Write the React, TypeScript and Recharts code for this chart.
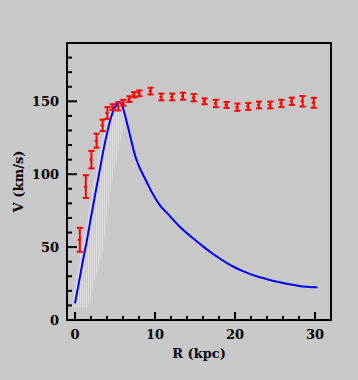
import {
  ComposedChart,
  Line,
  Area,
  Scatter,
  ErrorBar,
  XAxis,
  YAxis,
  Label,
  ReferenceArea,
} from 'recharts';

// observed rotation curve (red points with error bars)
const obsR = [0.6, 1.35, 2.05, 2.7, 3.45, 4.05, 4.7, 5.4, 6.05, 6.8, 7.4, 8.05, 9.45, 10.8, 12.15, 13.5, 14.85, 16.2, 17.6, 18.95, 20.3, 21.65, 23.0, 24.4, 25.8, 27.1, 28.45, 29.85];
const obsV = [55, 91.5, 110, 123, 133.5, 142, 146, 146.5, 149, 151.5, 154.5, 155.5, 157, 153, 153, 153.5, 152.5, 150, 148.5, 147.5, 146, 146.5, 147.5, 147.5, 148.5, 150, 150, 149];
const obsErr = [8.2, 7.8, 6, 4.8, 3.9, 4, 2, 2.8, 2, 2, 1.8, 2, 2.3, 2.3, 2.3, 2.4, 2.5, 2, 2.5, 2, 2.5, 2.4, 2.3, 2.3, 2.5, 2.5, 3.6, 3.4];

// model curve (blue)
const modelR = [0, 0.5, 1, 1.5, 2, 2.5, 3, 3.5, 4, 4.5, 5, 5.3, 5.6, 5.9, 6.25, 6.67, 7.08, 7.5, 7.8, 8.15, 8.54, 8.96, 9.58, 10.6, 11.66, 13, 14, 15, 16, 17, 18, 19, 20, 21, 22, 23, 24, 25, 26, 27, 28, 29, 30, 30.3];
const modelV = [11.4, 26, 41, 55, 70.5, 85.5, 100, 115, 128, 139, 146, 148.8, 149.5, 147, 140.4, 131.3, 122.1, 113, 108.2, 103.6, 99.3, 94.7, 87.9, 78.8, 72.4, 64.5, 59.5, 55, 50.5, 46.3, 42.5, 39, 36, 33.5, 31.3, 29.5, 28, 26.6, 25.4, 24.3, 23.4, 22.8, 22.4, 22.4];

// light shaded band around the rising part
const bandR = [-0.4, 0, 0.5, 1, 1.5, 1.9, 2.5, 3, 3.5, 4, 4.5, 5, 5.5, 5.9, 6.2];
const bandLow = [9, 9, 9, 9, 9, 13, 28, 38, 48, 70, 92, 105, 118, 128, 138];
const bandHigh = [9, 26, 41, 55, 70, 82, 100, 115, 128, 139, 146, 149, 149, 146, 140];

const xTicks = [0, 2, 4, 6, 8, 10, 12, 14, 16, 18, 20, 22, 24, 26, 28, 30];
const yTicks = [0, 10, 20, 30, 40, 50, 60, 70, 80, 90, 100, 110, 120, 130, 140, 150, 160, 170, 180];

const obsData = obsR.map((r, i) => ({ r, v: obsV[i], err: obsErr[i] }));
const modelData = modelR.map((r, i) => ({ r, v: modelV[i] }));
const bandData = bandR.map((r, i) => ({ r, band: [bandLow[i], bandHigh[i]] }));

const BG = '#c8c8c8';
const FONT = '"DejaVu Serif", serif';

const BottomTick = (props: any) => {
  const { x, y, payload } = props;
  const major = payload.value % 10 === 0;
  return (
    <g>
      <line x1={x} y1={y} x2={x} y2={y - (major ? 8 : 4)} stroke="#000" strokeWidth={2} />
      {major && (
        <text x={x} y={y + 14} textAnchor="middle" dominantBaseline="central" fontFamily={FONT} fontWeight="bold" fontSize={13} fill="#000">
          {payload.value}
        </text>
      )}
    </g>
  );
};

const TopTick = (props: any) => {
  const { x, y, payload } = props;
  const major = payload.value % 10 === 0;
  return <line x1={x} y1={y} x2={x} y2={y + (major ? 8 : 4)} stroke="#000" strokeWidth={2} />;
};

const LeftTick = (props: any) => {
  const { x, y, payload } = props;
  const major = payload.value % 50 === 0;
  return (
    <g>
      <line x1={x} y1={y} x2={x + (major ? 10 : 5)} y2={y} stroke="#000" strokeWidth={2} />
      {major && (
        <text x={x - 8} y={y} textAnchor="end" dominantBaseline="central" fontFamily={FONT} fontWeight="bold" fontSize={13} fill="#000">
          {payload.value}
        </text>
      )}
    </g>
  );
};

const RightTick = (props: any) => {
  const { x, y, payload } = props;
  const major = payload.value % 50 === 0;
  return <line x1={x} y1={y} x2={x - (major ? 10 : 5)} y2={y} stroke="#000" strokeWidth={2} />;
};

const YTitle = (props: any) => {
  const vb = props.viewBox || {};
  const cx = 18;
  const cy = (vb.y ?? 43) + (vb.height ?? 277) / 2;
  return (
    <text x={cx} y={cy} transform={`rotate(-90 ${cx} ${cy})`} textAnchor="middle" dominantBaseline="central" fontFamily={FONT} fontWeight="bold" fontSize={13} fill="#000">
      V (km/s)
    </text>
  );
};

const XTitle = (props: any) => {
  const vb = props.viewBox || {};
  const cx = (vb.x ?? 67) + (vb.width ?? 264) / 2;
  return (
    <text x={cx} y={353} textAnchor="middle" dominantBaseline="central" fontFamily={FONT} fontWeight="bold" fontSize={13} fill="#000">
      R (kpc)
    </text>
  );
};

const Dot = (props: any) => {
  const { cx, cy } = props;
  return <rect x={cx - 2} y={cy - 1} width={3} height={2} fill="#ff0000" />;
};

export default function App() {
  return (
    <div style={{ position: 'fixed', left: 0, top: 0, width: 358, height: 380, background: BG }}>
      <ComposedChart width={358} height={380} margin={{ top: 42, right: 26, left: 0, bottom: 0 }}>
        <defs>
          <pattern id="stripes" width="2" height="2" patternUnits="userSpaceOnUse">
            <rect x="0" y="0" width="1" height="2" fill="#dcdcdc" />
            <rect x="1" y="0" width="1" height="2" fill="#cacaca" />
          </pattern>
        </defs>
        <XAxis
          dataKey="r"
          type="number"
          domain={[-1, 32]}
          ticks={xTicks}
          interval={0}
          height={60}
          tickSize={0}
          tickMargin={0}
          tick={BottomTick}
          axisLine={{ stroke: '#000', strokeWidth: 2 }}
          allowDuplicatedCategory={false}
        >
          <Label content={XTitle} />
        </XAxis>
        <XAxis
          xAxisId="top"
          dataKey="r"
          type="number"
          orientation="top"
          domain={[-1, 32]}
          ticks={xTicks}
          interval={0}
          height={1}
          tickSize={0}
          tickMargin={0}
          tick={TopTick}
          axisLine={{ stroke: '#000', strokeWidth: 2 }}
        />
        <YAxis
          type="number"
          domain={[0, 190]}
          ticks={yTicks}
          interval={0}
          width={67}
          tickSize={0}
          tickMargin={0}
          tick={LeftTick}
          axisLine={{ stroke: '#000', strokeWidth: 2 }}
        >
          <Label content={YTitle} />
        </YAxis>
        <YAxis
          yAxisId="right"
          type="number"
          orientation="right"
          domain={[0, 190]}
          ticks={yTicks}
          interval={0}
          width={1}
          tickSize={0}
          tickMargin={0}
          tick={RightTick}
          axisLine={{ stroke: '#000', strokeWidth: 2 }}
        />
        <ReferenceArea x1={-1} x2={32} y1={0} y2={190} fill="none" stroke="#000" strokeWidth={2} ifOverflow="visible" />
        <Area
          data={bandData}
          dataKey="band"
          type="linear"
          stroke="none"
          fill="url(#stripes)"
          fillOpacity={1}
          isAnimationActive={false}
        />
        <Line
          data={modelData}
          dataKey="v"
          type="monotone"
          stroke="#0000ff"
          strokeWidth={2}
          dot={false}
          activeDot={false}
          isAnimationActive={false}
        />
        <Scatter data={obsData} dataKey="v" fill="#ff0000" shape={Dot} isAnimationActive={false}>
          <ErrorBar dataKey="err" direction="y" width={3} stroke="#ff0000" strokeWidth={2} />
        </Scatter>
      </ComposedChart>
    </div>
  );
}
